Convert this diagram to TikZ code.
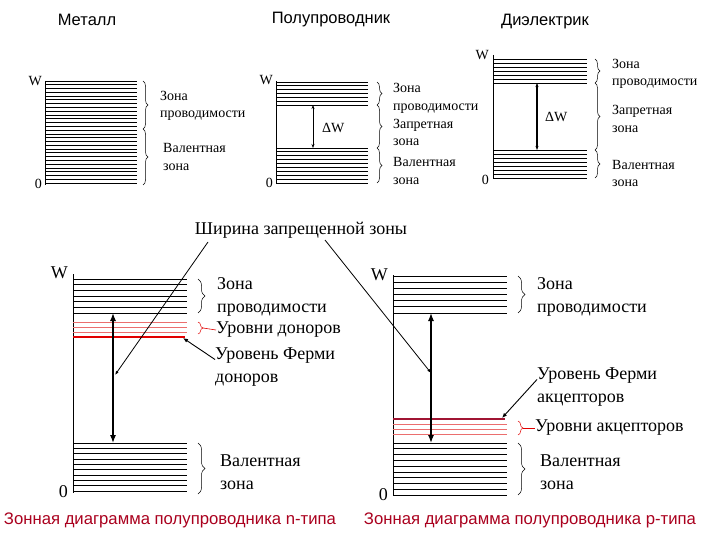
\documentclass[tikz,border=0pt]{standalone}
\usepackage{fontspec}
\setmainfont{Liberation Serif}
\setsansfont{Liberation Sans}
\usetikzlibrary{arrows.meta,decorations.pathreplacing,positioning}

\definecolor{capred}{RGB}{170,0,30}
\definecolor{donred}{RGB}{225,0,0}
\definecolor{thinred}{RGB}{235,110,110}
\definecolor{accred}{RGB}{160,20,50}

\tikzset{
    level/.style={line width=0.8pt},
    zbrace/.style={decorate,decoration={brace,amplitude=5pt},line width=0.5pt},
    bigbrace/.style={decorate,decoration={brace,amplitude=7pt},line width=0.5pt},
    lbl/.style={font=\fontsize{14}{17.5}\selectfont,align=left,anchor=west,inner sep=0pt},
    big/.style={font=\fontsize{18}{23}\selectfont,align=left,anchor=west,inner sep=0pt},
    title/.style={font=\sffamily\fontsize{16.5}{18}\selectfont},
    caption/.style={font=\sffamily\fontsize{16.7}{18}\selectfont,text=capred},
    gap/.style={{Stealth[length=4pt,width=3pt]}-{Stealth[length=4pt,width=3pt]},line width=0.6pt},
    biggap/.style={{Latex[length=8pt,width=6pt]}-{Latex[length=8pt,width=6pt]},line width=1.3pt},
    pointer/.style={-{Latex[length=5pt,width=4pt]},line width=0.9pt},
}

\begin{document}
\begin{tikzpicture}[x=1pt,y=-1pt]
    \useasboundingbox[fill=white] (0,0) rectangle (720,540);

    % titles
    \node[title] (tmet) at (87,20) {Металл};
    \node[title] (tsem) at (331,20) {Полупроводник};
    \node[title] (tdie) at (545,22) {Диэлектрик};

    % metal
    \draw[level] (45,81) -- (45,185);
    \foreach \i in {0,...,27} \draw[level] (45,{81+\i*3.78}) -- (137,{81+\i*3.78});
    \node[lbl,anchor=east] (mw) at (42,81) {W};
    \node[lbl,anchor=east] (m0) at (42,184) {0};
    \draw[zbrace] (143,81) -- (143,129);
    \draw[zbrace] (143,129) -- (143,185);
    \node[lbl] (mcond) at (160,106) {Зона\\проводимости};
    \node[lbl] (mval) at (163,157) {Валентная\\зона};

    % semiconductor
    \draw[level] (276,81) -- (276,184);
    \foreach \i in {0,...,6} \draw[level] (276,{82+\i*3.9}) -- (368,{82+\i*3.9});
    \foreach \i in {0,...,9} \draw[level] (276,{148+\i*3.9}) -- (368,{148+\i*3.9});
    \node[lbl,anchor=east] (sw) at (273,80) {W};
    \node[lbl,anchor=east] (s0) at (273,183) {0};
    \coordinate (stop) at (313,105);
    \coordinate (sbot) at (313,148);
    \draw[gap] (stop) -- (sbot);
    \node[lbl] (sdw) at (322,128) {ΔW};
    \draw[zbrace] (377,82) -- (377,105);
    \draw[zbrace] (377,105) -- (377,148);
    \draw[zbrace] (377,148) -- (377,183);
    \node[lbl] (scond) at (393,98.5) {Зона\\проводимости};
    \node[lbl] (sgap) at (393,132.5) {Запретная\\зона};
    \node[lbl] (sval) at (393,171) {Валентная\\зона};

    % dielectric
    \draw[level] (493,55) -- (493,179);
    \foreach \i in {0,...,6} \draw[level] (493,{59+\i*4}) -- (587,{59+\i*4});
    \foreach \i in {0,...,7} \draw[level] (493,{150+\i*4}) -- (587,{150+\i*4});
    \node[lbl,anchor=east] (dw) at (489,55) {W};
    \node[lbl,anchor=east] (d0) at (489,180) {0};
    \coordinate (dtop) at (537,83);
    \coordinate (dbot) at (537,150);
    \draw[gap,line width=1.1pt] (dtop) -- (dbot);
    \node[lbl] (ddw) at (545,117) {ΔW};
    \draw[zbrace] (595,59) -- (595,83);
    \draw[zbrace] (595,83) -- (595,150);
    \draw[zbrace] (595,150) -- (595,178);
    \node[lbl] (dcond) at (612,74) {Зона\\проводимости};
    \node[lbl] (dgap) at (612,119) {Запретная\\зона};
    \node[lbl] (dval) at (612,173.5) {Валентная\\зона};

    % n-type
    \draw[level] (73,274) -- (73,493);
    \foreach \i in {0,...,6} \draw[level] (73,{279+\i*5.67}) -- (187,{279+\i*5.67});
    \foreach \y in {322,327,332} \draw[thinred,line width=0.8pt] (73,\y) -- (187,\y);
    \draw[donred,line width=2pt] (73,337) -- (185,337);
    \foreach \i in {0,...,9} \draw[level] (73,{443+\i*5.33}) -- (187,{443+\i*5.33});
    \node[big,anchor=east] (nw) at (68,273) {W};
    \node[big,anchor=east] (n0) at (68,492) {0};
    \coordinate (ntop) at (113,313);
    \coordinate (nbot) at (113,443);
    \coordinate (nmid) at (115,375);
    \coordinate (nferm) at (183,338);
    \draw[biggap] (ntop) -- (nbot);
    \draw[bigbrace] (198,279) -- (198,313);
    \draw[zbrace,donred] (198,322) -- (198,334);
    \coordinate (ntip) at (203,328);
    \draw[bigbrace] (198,443) -- (198,494);
    \node[big] (ncond) at (217,296.5) {Зона\\проводимости};
    \node[big] (ndon) at (216,330) {Уровни доноров};
    \draw[donred,line width=0.6pt] (ntip) -- (ndon.west);
    \node[big] (nfd) at (215,367.5) {Уровень Ферми\\доноров};
    \draw[pointer] ([yshift=8pt]nfd.west) -- (nferm);
    \node[big] (nval) at (220,472.5) {Валентная\\зона};

    % p-type
    \draw[level] (393,275) -- (393,495);
    \foreach \i in {0,...,6} \draw[level] (393,{276+\i*6.17}) -- (507,{276+\i*6.17});
    \draw[accred,line width=2pt] (393,419) -- (505,419);
    \foreach \y in {424,429,434} \draw[thinred,line width=0.8pt] (393,\y) -- (507,\y);
    \foreach \i in {0,...,9} \draw[level] (393,{443+\i*5.78}) -- (507,{443+\i*5.78});
    \node[big,anchor=east] (pw) at (388,275) {W};
    \node[big,anchor=east] (p0) at (388,495) {0};
    \coordinate (ptop) at (431,313);
    \coordinate (pbot) at (431,443);
    \coordinate (pmid) at (431,373);
    \coordinate (pferm) at (502,418);
    \draw[biggap] (ptop) -- (pbot);
    \draw[bigbrace] (518,276) -- (518,313);
    \draw[zbrace,donred] (518,421) -- (518,435);
    \coordinate (ptip) at (523,428);
    \draw[bigbrace] (518,443) -- (518,495);
    \node[big] (pcond) at (537,296.5) {Зона\\проводимости};
    \node[big] (pfa) at (537,387.5) {Уровень Ферми\\акцепторов};
    \draw[pointer] ([yshift=8pt]pfa.west) -- (pferm);
    \node[big] (pacc) at (535,428) {Уровни акцепторов};
    \draw[donred,line width=0.6pt] (ptip) -- (pacc.west);
    \node[big] (pval) at (540,472.5) {Валентная\\зона};

    % band gap label
    \node[font=\fontsize{18}{20}\selectfont,inner sep=0pt] (wid) at (301,230) {Ширина запрещенной зоны};
    \coordinate (wl) at (208,242);
    \coordinate (wr) at (325,240);
    \draw[-{Latex[length=4pt,width=3pt]},line width=0.8pt] (wl) -- (nmid);
    \draw[-{Latex[length=4pt,width=3pt]},line width=0.8pt] (wr) -- (pmid);

    % captions
    \node[caption] (capn) at (170,520) {Зонная диаграмма полупроводника n-типа};
    \node[caption] (capp) at (530,520) {Зонная диаграмма полупроводника p-типа};
\end{tikzpicture}
\end{document}
